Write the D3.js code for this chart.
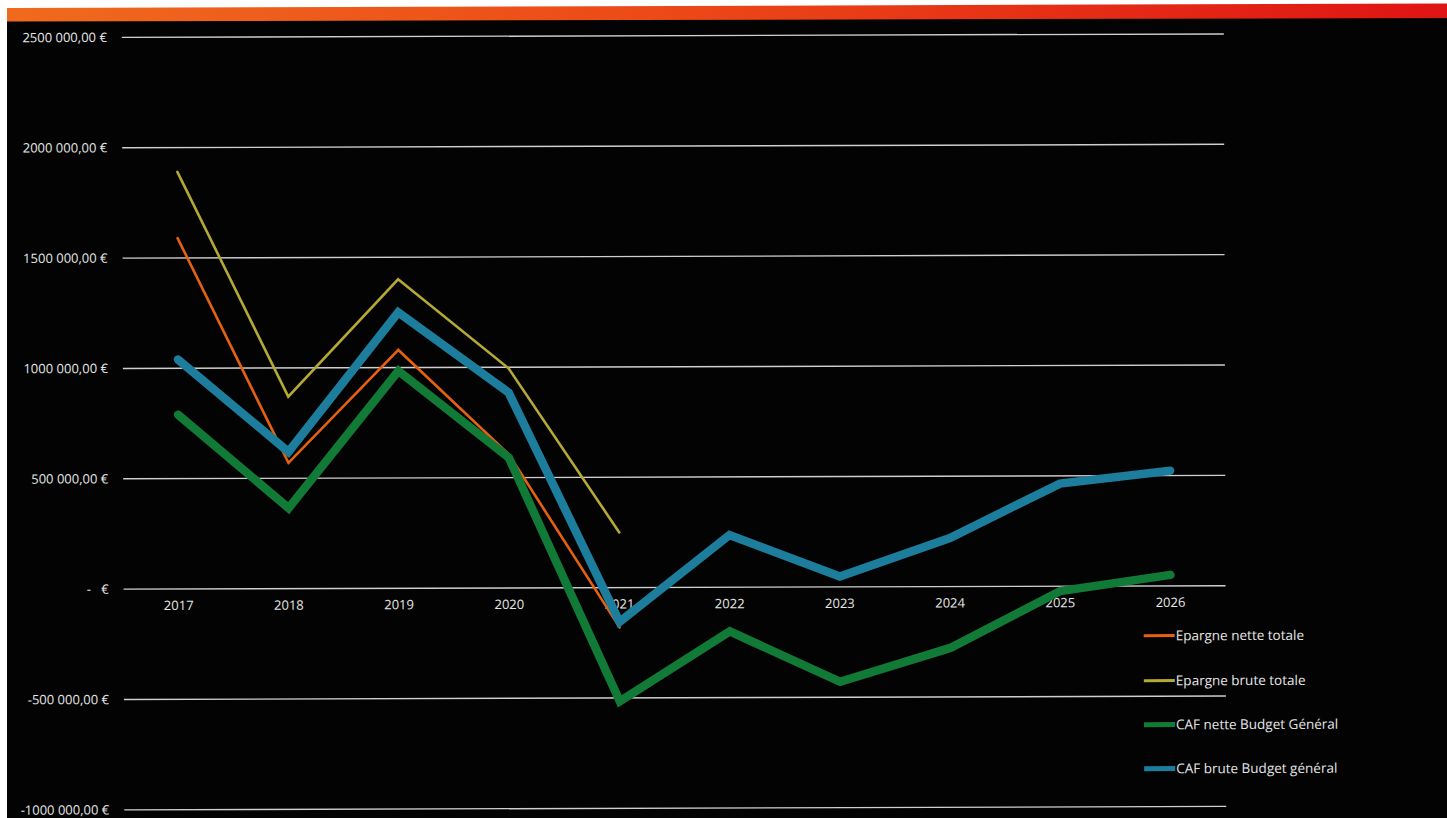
<!DOCTYPE html>
<html>
<head>
<meta charset="utf-8">
<script src="https://cdn.jsdelivr.net/npm/d3@7/dist/d3.min.js"></script>
<style>
  html, body { margin: 0; padding: 0; background: #ffffff; }
  svg { display: block; }
  text { font-family: "Open Sans", "DejaVu Sans", sans-serif; fill: #e6e6e6; }
</style>
</head>
<body>
<svg id="chart" width="1447" height="818"></svg>
<script>
// Années
const years = ["2017", "2018", "2019", "2020", "2021", "2022", "2023", "2024", "2025", "2026"];

// Séries (en euros)
const epargneNette = [1590000, 570000, 1080000, 605000, -180000, null, null, null, null, null];
const epargneBrute = [1890000, 870000, 1400000, 995000, 250000, null, null, null, null, null];
const cafNette = [790000, 365000, 985000, 590000, -515000, -200000, -430000, -278000, -22000, 50000];
const cafBrute = [1040000, 620000, 1250000, 885000, -155000, 237000, 47000, 220000, 465000, 522000];

// Graduations de l'axe vertical
const yTicks = [2500000, 2000000, 1500000, 1000000, 500000, 0, -500000, -1000000];
const yTickLabels = ["2500 000,00 €", "2000 000,00 €", "1500 000,00 €", "1000 000,00 €",
                     "500 000,00 €", "-   €", "-500 000,00 €", "-1000 000,00 €"];

const series = [
  { name: "Epargne nette totale", values: epargneNette, color: "#e5610f", width: 2.6, legendWidth: 3 },
  { name: "Epargne brute totale", values: epargneBrute, color: "#b4a935", width: 2.6, legendWidth: 3 },
  { name: "CAF nette Budget Général", values: cafNette, color: "#127a37", width: 8.5, legendWidth: 5 },
  { name: "CAF brute Budget général", values: cafBrute, color: "#1c7d9c", width: 8.5, legendWidth: 5 }
];

const svg = d3.select("#chart");

// Header band gradient
const defs = svg.append("defs");
const grad = defs.append("linearGradient").attr("id", "band").attr("x1", "0").attr("x2", "1");
grad.append("stop").attr("offset", "0").attr("stop-color", "#f06a1e");
grad.append("stop").attr("offset", "0.45").attr("stop-color", "#ec4a17");
grad.append("stop").attr("offset", "1").attr("stop-color", "#df1414");

// Black page (slightly tilted sheet) and header band
svg.append("polygon")
  .attr("points", "7,20 1447,16 1447,818 7,818")
  .attr("fill", "#030303");
svg.append("polygon")
  .attr("points", "7,8 1447,3.5 1447,18 7,21.5")
  .attr("fill", "url(#band)");

// Chart content follows the sheet's tilt
const root = svg.append("g").attr("transform", "rotate(-0.18, 724, 409)");

// Scales
const x = d3.scalePoint().domain(years).range([123, 1225]).padding(0.5);
const y = d3.scaleLinear().domain([-1000000, 2500000]).range([808, 35.5]);

// Horizontal grid lines
root.append("g")
  .selectAll("line")
  .data(yTicks)
  .join("line")
  .attr("x1", 123).attr("x2", 1225)
  .attr("y1", d => y(d)).attr("y2", d => y(d))
  .attr("stroke", "#cfcfcf")
  .attr("stroke-width", 1.4);

// Y axis labels
root.append("g")
  .selectAll("text")
  .data(yTicks)
  .join("text")
  .attr("x", 108)
  .attr("y", d => y(d))
  .attr("dy", "0.35em")
  .attr("text-anchor", "end")
  .attr("font-size", 13)
  .attr("letter-spacing", "0")
  .style("white-space", "pre")
  .text((d, i) => yTickLabels[i]);

// X axis labels, just under the zero line
root.append("g")
  .selectAll("text")
  .data(years)
  .join("text")
  .attr("x", d => x(d))
  .attr("y", y(0) + 21)
  .attr("text-anchor", "middle")
  .attr("font-size", 13)
  .text(d => d);

// Lines (thick series drawn last, on top)
const line = d3.line()
  .defined(d => d.v !== null)
  .x(d => x(d.year))
  .y(d => y(d.v));

root.append("g")
  .selectAll("path")
  .data(series)
  .join("path")
  .attr("d", s => line(s.values.map((v, i) => ({ year: years[i], v }))))
  .attr("fill", "none")
  .attr("stroke", s => s.color)
  .attr("stroke-width", s => s.width)
  .attr("stroke-linecap", "round")
  .attr("stroke-linejoin", "miter");

// Legend
const legendY = [637, 682, 726, 770];
const legend = root.append("g")
  .selectAll("g")
  .data(series)
  .join("g")
  .attr("transform", (d, i) => `translate(1143, ${legendY[i]})`);

legend.append("line")
  .attr("x1", 0).attr("x2", 31)
  .attr("y1", 0).attr("y2", 0)
  .attr("stroke", d => d.color)
  .attr("stroke-width", d => d.legendWidth);

legend.append("text")
  .attr("x", 32)
  .attr("dy", "0.35em")
  .attr("font-size", 13.5)
  .text(d => d.name);
</script>
</body>
</html>
